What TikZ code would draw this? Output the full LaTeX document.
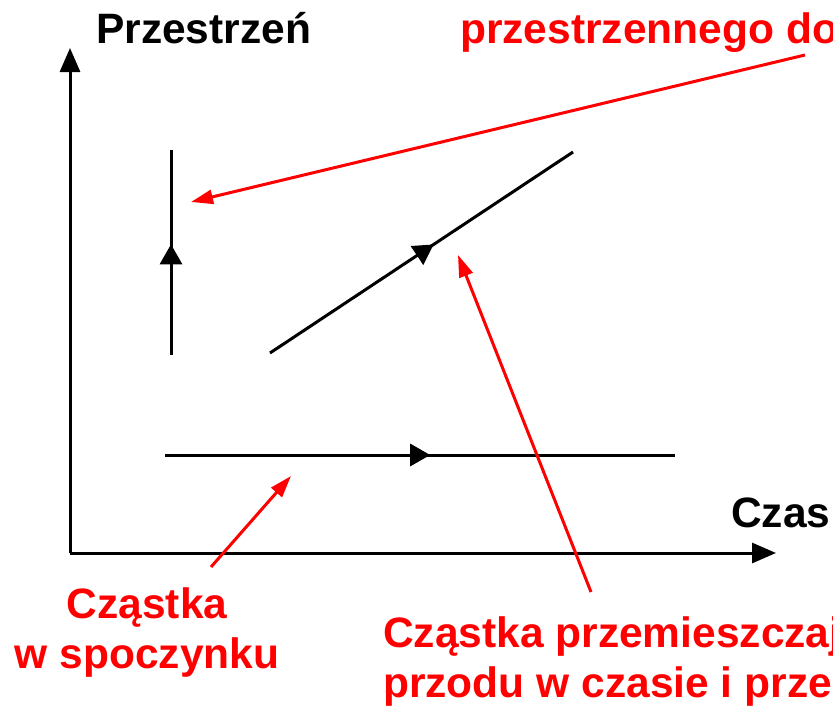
\documentclass[tikz,border=0pt]{standalone}
\usepackage{fontspec}
\setmainfont{Liberation Sans}
\usetikzlibrary{arrows.meta,decorations.markings}
\definecolor{lblred}{RGB}{255,0,0}
\begin{document}
\begin{tikzpicture}[x=1pt,y=-1pt,
  lbl/.style={font=\fontsize{42.5}{48}\selectfont\bfseries, inner sep=0pt},
  ax/.style={line width=3pt, -{Triangle[length=24pt,width=20pt]}},
  wline/.style={line width=3pt},
  midarrow/.style={postaction={decorate}, decoration={markings, mark=at position #1 with {\arrow{Triangle[length=20pt,width=22pt]}}}},
  ptr/.style={draw=lblred, line width=3pt, -{Triangle[length=22pt,width=14pt]}}]
\useasboundingbox (0,0) rectangle (833,707);
\clip (0,0) rectangle (833,707);
% axes
\coordinate (O) at (70,553);
\coordinate (ytip) at (70,48);
\coordinate (xtip) at (776,553);
\draw[ax] (O) -- (ytip);
\draw[ax] (O) -- (xtip);
% labels
\node[lbl, anchor=base west] (przestrzen) at (96,43) {Przestrzeń};
\node[lbl, anchor=base west] (czas) at (731,527) {Czas};
\node[lbl, anchor=base west, text=lblred] (topred) at (460,43) {przestrzennego do};
\node[lbl, anchor=base, text=lblred] (rest1) at (147,618) {Cząstka};
\node[lbl, anchor=base, text=lblred] (rest2) at (147,668) {w spoczynku};
\node[lbl, anchor=base west, text=lblred] (move1) at (383,647) {Cząstka przemieszczaj};
\node[lbl, anchor=base west, text=lblred] (move2) at (383,697) {przodu w czasie i prze};
% world lines
\coordinate (va) at (171,355);
\coordinate (vb) at (171,150);
\coordinate (da) at (270,353);
\coordinate (db) at (573,152);
\coordinate (ha) at (165,455);
\coordinate (hb) at (675,455);
\draw[wline, midarrow=0.54] (va) -- (vb);
\draw[wline, midarrow=0.54] (da) -- (db);
\draw[wline, midarrow=0.52] (ha) -- (hb);
% red pointers
\coordinate (p1s) at (805,55);
\coordinate (p1e) at (191,202);
\coordinate (p2s) at (591,592);
\coordinate (p2e) at (458,255);
\coordinate (p3s) at (211,567);
\coordinate (p3e) at (291,476);
\draw[ptr] (p1s) -- (p1e);
\draw[ptr] (p2s) -- (p2e);
\draw[ptr] (p3s) -- (p3e);
\end{tikzpicture}
\end{document}
